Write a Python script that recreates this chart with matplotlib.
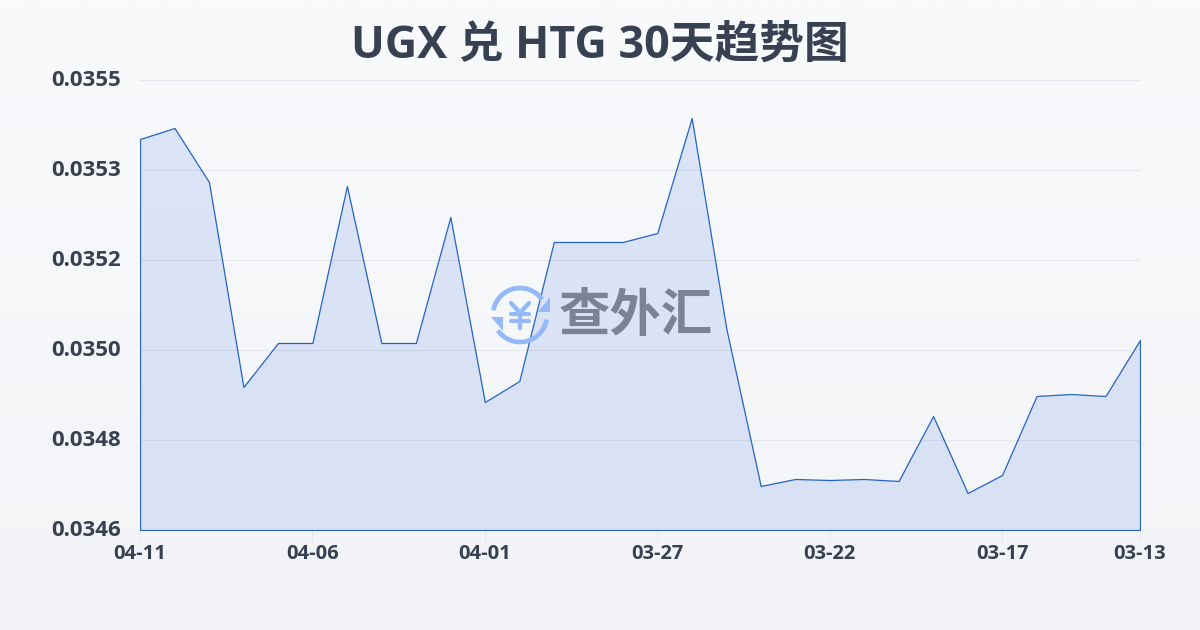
import numpy as np
import matplotlib
matplotlib.use('Agg')
import matplotlib.pyplot as plt
from matplotlib.patches import Arc, Polygon
from matplotlib.transforms import ScaledTranslation

plt.rcParams['font.family'] = ['Open Sans', 'Noto Sans CJK SC', 'DejaVu Sans']

dates = ['04-11', '04-10', '04-09', '04-08', '04-07', '04-06', '04-05', '04-04', '04-03', '04-02',
         '04-01', '03-31', '03-30', '03-29', '03-28', '03-27', '03-26', '03-25', '03-24', '03-23',
         '03-22', '03-21', '03-20', '03-19', '03-18', '03-17', '03-16', '03-15', '03-14', '03-13']
rates = [0.035412, 0.035434, 0.035326, 0.034916, 0.035004, 0.035004, 0.035318, 0.035004, 0.035004, 0.035256,
         0.034886, 0.034928, 0.035206, 0.035206, 0.035206, 0.035224, 0.035454, 0.035034, 0.034718, 0.034732,
         0.034730, 0.034732, 0.034728, 0.034858, 0.034704, 0.034740, 0.034898, 0.034902, 0.034898, 0.035010]
y_ticks = [0.03463, 0.03481, 0.03499, 0.03517, 0.03535, 0.03553]
y_labels = ['0.0346', '0.0348', '0.0350', '0.0352', '0.0353', '0.0355']
x_ticks = [0, 5, 10, 15, 20, 25, 29]

text_color = '#374151'
line_color = '#2563c9'

fig = plt.figure(figsize=(12, 6.3), dpi=100)

# background gradient
bg = fig.add_axes([0, 0, 1, 1], zorder=0)
bg.imshow(np.linspace(0, 1, 256).reshape(-1, 1), aspect='auto', extent=[0, 1, 0, 1],
          cmap=matplotlib.colors.LinearSegmentedColormap.from_list('bg', ['#f9fafc', '#f2f4f7']))
bg.axis('off')

ax = fig.add_axes([140 / 1200, 100 / 630, 1000 / 1200, 450 / 630], zorder=1)
ax.patch.set_alpha(0)
x = np.arange(len(rates))
ax.fill_between(x, rates, y_ticks[0], facecolor=(37 / 255, 99 / 255, 220 / 255, 0.13),
                edgecolor=line_color, linewidth=0.9)
ax.set_xlim(0, len(rates) - 1)
ax.set_ylim(y_ticks[0], y_ticks[-1])
ax.set_yticks(y_ticks)
ax.set_yticklabels(y_labels, fontsize=16, fontweight='bold', color=text_color)
ax.set_xticks(x_ticks)
ax.set_xticklabels([dates[i] for i in x_ticks], fontsize=14.5, fontweight='bold', color=text_color)
ax.tick_params(axis='y', length=0, pad=13.5)
ax.tick_params(axis='x', length=8, color='#e5e7eb', width=0.8, pad=2)
ax.grid(axis='y', color='#e3e6ec', linewidth=0.8)
ax.set_axisbelow(True)
for s in ax.spines.values():
    s.set_visible(False)
# y labels sit a little above their grid lines
for lab in ax.get_yticklabels():
    lab.set_transform(lab.get_transform() + ScaledTranslation(0, 1.5 / 72, fig.dpi_scale_trans))

fig.text(600 / 1200, 1 - 46.5 / 630, 'UGX 兑 HTG 30天趋势图', ha='center', va='center',
         fontsize=32.2, fontweight='bold', color=text_color)

# watermark logo, drawn in pixel coordinates
wm = fig.add_axes([0, 0, 1, 1], zorder=2)
wm.set_xlim(0, 1200)
wm.set_ylim(630, 0)
wm.axis('off')
logo = '#93b9f9'
wm.add_patch(Arc((520, 315), 54, 54, theta1=190, theta2=325, color=logo, lw=3.4))
wm.add_patch(Arc((520, 315), 54, 54, theta1=10, theta2=145, color=logo, lw=3.4))
wm.add_patch(Polygon([[491, 317], [503, 317], [503, 331]], color=logo, lw=0))
wm.add_patch(Polygon([[550, 297], [550, 312], [538, 312]], color=logo, lw=0))
wm.plot([511, 520, 529], [303, 313, 303], color=logo, lw=3.2, solid_capstyle='round')
wm.plot([520, 520], [313, 328], color=logo, lw=3.2, solid_capstyle='round')
wm.plot([511, 529], [314, 314], color=logo, lw=3, solid_capstyle='round')
wm.plot([511, 529], [321, 321], color=logo, lw=3, solid_capstyle='round')
wm.text(635.5, 318.5, '查外汇', ha='center', va='center', fontsize=37, fontweight='bold', color='#7a8294')

fig.savefig('out.png', dpi=100)
